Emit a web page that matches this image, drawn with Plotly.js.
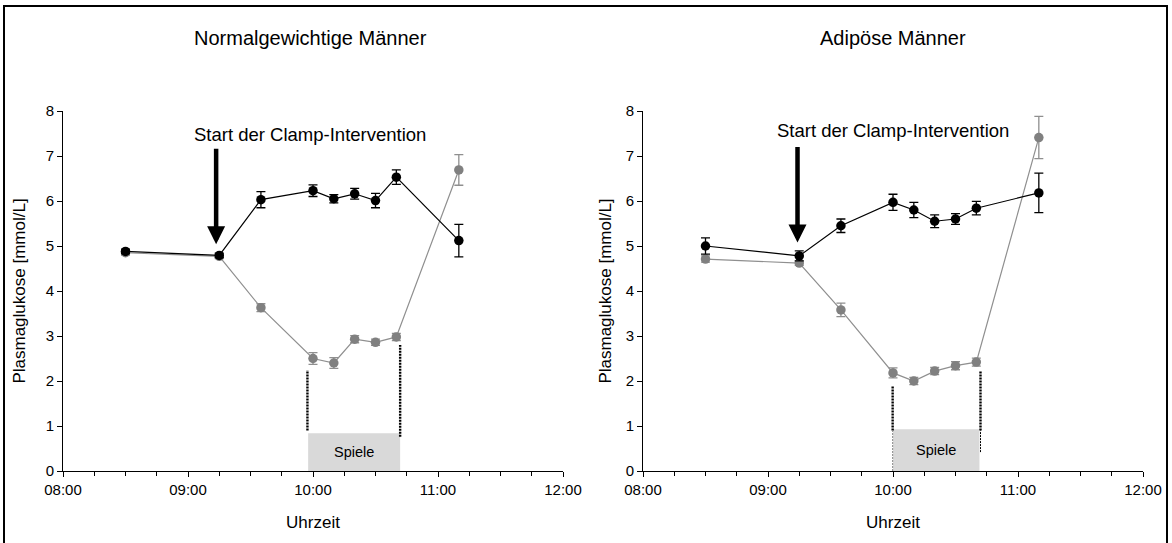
<!DOCTYPE html>
<html>
<head>
<meta charset="utf-8">
<script src="https://cdn.plot.ly/plotly-3.0.1.min.js"></script>
<style>
  html, body { margin: 0; padding: 0; background: #fff; }
  #wrap { position: relative; width: 1172px; height: 543px; overflow: hidden; }
  #frame { position: absolute; left: 3px; top: 5px; width: 1165px; height: 600px; border: 2px solid #000; box-sizing: border-box; pointer-events: none; z-index: 5; }
  #chart { position: absolute; left: 0; top: 0; width: 1172px; height: 543px; }
</style>
</head>
<body>
<div id="wrap">
  <div id="chart"></div>
  <div id="frame"></div>
</div>
<script>
// ---- Data ----
var panelTitles = ['Normalgewichtige Männer', 'Adipöse Männer'];
var times = ['08:30', '09:15', '09:35', '10:00', '10:10', '10:20', '10:30', '10:40', '11:10'];

// Normalgewichtige Männer
var normalBlack    = [4.88, 4.79, 6.03, 6.23, 6.05, 6.16, 6.01, 6.53, 5.12];
var normalBlackErr = [0.05, 0.05, 0.18, 0.13, 0.09, 0.12, 0.16, 0.16, 0.36];
var normalGray     = [4.85, 4.77, 3.63, 2.50, 2.40, 2.93, 2.86, 2.98, 6.69];
var normalGrayErr  = [0.05, 0.05, 0.09, 0.13, 0.12, 0.08, 0.07, 0.08, 0.34];

// Adipöse Männer
var adiposBlack    = [5.00, 4.78, 5.45, 5.97, 5.80, 5.55, 5.60, 5.84, 6.18];
var adiposBlackErr = [0.18, 0.11, 0.15, 0.18, 0.17, 0.14, 0.12, 0.15, 0.44];
var adiposGray     = [4.71, 4.62, 3.58, 2.18, 2.00, 2.22, 2.34, 2.42, 7.41];
var adiposGrayErr  = [0.07, 0.05, 0.15, 0.11, 0.08, 0.08, 0.09, 0.09, 0.47];

var xTitle = 'Uhrzeit';
var yTitle = 'Plasmaglukose [mmol/L]';
var arrowText = 'Start der Clamp-Intervention';
var boxText = 'Spiele';

// ---- Helpers ----
function T(s) { return '2000-01-01 ' + s; }
var tx = times.map(T);

var FONT = 'Liberation Sans, Arial, sans-serif';
var GRAY_M = '#808080', GRAY_L = '#8f8f8f';

function series(y, err, color, lineColor, xa, ya) {
  return {
    x: tx, y: y, type: 'scatter', mode: 'lines+markers',
    xaxis: xa, yaxis: ya, showlegend: false,
    line: { color: lineColor, width: 1.2 },
    marker: { color: color, size: 9.5 },
    error_y: { type: 'data', array: err, visible: true, color: lineColor, thickness: 1.3, width: 4.5 }
  };
}

var data = [
  series(normalGray, normalGrayErr, GRAY_M, GRAY_L, 'x', 'y'),
  series(normalBlack, normalBlackErr, '#000', '#000', 'x', 'y'),
  series(adiposGray, adiposGrayErr, GRAY_M, GRAY_L, 'x2', 'y2'),
  series(adiposBlack, adiposBlackErr, '#000', '#000', 'x2', 'y2')
];

function xax(domain, anchor) {
  return {
    domain: domain, anchor: anchor, type: 'date',
    range: [T('08:00'), T('12:00')],
    tickformat: '%H:%M', dtick: 3600000, tick0: T('08:00'),
    ticks: 'outside', ticklen: 5, tickcolor: '#000', tickwidth: 1,
    minor: { dtick: 900000, ticks: 'outside', ticklen: 4, tickcolor: '#000', tickwidth: 1, showgrid: false },
    showline: true, linecolor: '#000', linewidth: 1, showgrid: false, zeroline: false,
    tickfont: { family: FONT, size: 15, color: '#000' },
    title: { text: xTitle, font: { family: FONT, size: 17, color: '#000' }, standoff: 19 },
    automargin: false, fixedrange: true
  };
}
function yax(domain, anchor, standoff) {
  return {
    domain: domain, anchor: anchor, range: [0, 8], dtick: 1,
    ticks: 'outside', ticklen: 5, tickcolor: '#000', tickwidth: 1,
    showline: true, linecolor: '#000', linewidth: 1, showgrid: false, zeroline: false,
    tickfont: { family: FONT, size: 15, color: '#000' },
    title: { text: yTitle, font: { family: FONT, size: 17, color: '#000' }, standoff: standoff },
    automargin: false, fixedrange: true
  };
}

var yd = [72 / 543, 432 / 543];

var dotStyle = { color: '#000', width: 2.4, dash: '2px,1px' };
var shapes = [
  // Spiele boxes
  { type: 'rect', xref: 'x', yref: 'y', x0: T('09:57:40'), x1: T('10:41:50'), y0: 0, y1: 0.84, fillcolor: '#d9d9d9', line: { width: 0 }, layer: 'below' },
  { type: 'rect', xref: 'x2', yref: 'y2', x0: T('10:00:00'), x1: T('10:41:30'), y0: 0, y1: 0.93, fillcolor: '#d9d9d9', line: { width: 0 }, layer: 'below' },
  // dotted lines
  { type: 'line', xref: 'x', yref: 'y', x0: T('09:57:20'), x1: T('09:57:20'), y0: 0.9, y1: 2.24, line: dotStyle },
  { type: 'line', xref: 'x', yref: 'y', x0: T('10:41:50'), x1: T('10:41:50'), y0: 0.76, y1: 2.8, line: dotStyle },
  { type: 'line', xref: 'x2', yref: 'y2', x0: T('09:59:50'), x1: T('09:59:50'), y0: 0.9, y1: 1.89, line: dotStyle },
  { type: 'line', xref: 'x2', yref: 'y2', x0: T('09:59:50'), x1: T('09:59:50'), y0: 0, y1: 0.9, line: { color: '#888', width: 1, dash: '2px,1px' } },
  { type: 'line', xref: 'x2', yref: 'y2', x0: T('10:42:00'), x1: T('10:42:00'), y0: 0.9, y1: 2.22, line: dotStyle },
  { type: 'line', xref: 'x2', yref: 'y2', x0: T('10:42:00'), x1: T('10:42:00'), y0: 0.42, y1: 0.9, line: { color: '#000', width: 1, dash: '2px,1px' } }
];

var annFont = { family: FONT, size: 18.5, color: '#000' };
var titleFont = { family: FONT, size: 20, color: '#000' };
var annotations = [
  { xref: 'paper', yref: 'paper', x: 310 / 1172, y: (543 - 38) / 543, text: panelTitles[0], showarrow: false, font: titleFont, xanchor: 'center', yanchor: 'middle' },
  { xref: 'paper', yref: 'paper', x: 893 / 1172, y: (543 - 38) / 543, text: panelTitles[1], showarrow: false, font: titleFont, xanchor: 'center', yanchor: 'middle' },
  { xref: 'x', yref: 'y', x: T('09:58:30'), y: 7.47, text: arrowText, showarrow: false, font: annFont, xanchor: 'center', yanchor: 'middle' },
  { xref: 'x2', yref: 'y2', x: T('10:00:00'), y: 7.57, text: arrowText, showarrow: false, font: annFont, xanchor: 'center', yanchor: 'middle' },
  { xref: 'x', yref: 'y', x: T('09:13:30'), y: 5.04, text: '', showarrow: true, ax: 0, ay: -97, arrowhead: 2, arrowsize: 0.8, arrowwidth: 4.5, arrowcolor: '#000', standoff: 0 },
  { xref: 'x2', yref: 'y2', x: T('09:14:10'), y: 5.08, text: '', showarrow: true, ax: 0, ay: -97, arrowhead: 2, arrowsize: 0.8, arrowwidth: 4.5, arrowcolor: '#000', standoff: 0 },
  { xref: 'x', yref: 'y', x: T('10:19:45'), y: 0.42, text: boxText, showarrow: false, font: { family: FONT, size: 14.5, color: '#000' } },
  { xref: 'x2', yref: 'y2', x: T('10:20:45'), y: 0.46, text: boxText, showarrow: false, font: { family: FONT, size: 14.5, color: '#000' } }
];

var layout = {
  width: 1172, height: 543,
  margin: { l: 0, r: 0, t: 0, b: 0 },
  paper_bgcolor: '#fff', plot_bgcolor: '#fff',
  showlegend: false,
  xaxis: xax([63 / 1172, 563 / 1172], 'y'),
  yaxis: yax(yd, 'x', 15),
  xaxis2: xax([643 / 1172, 1143 / 1172], 'y2'),
  yaxis2: yax(yd, 'x2', 9),
  shapes: shapes,
  annotations: annotations,
  font: { family: FONT, color: '#000' }
};

Plotly.newPlot('chart', data, layout, { displayModeBar: false, staticPlot: true });
</script>
</body>
</html>
